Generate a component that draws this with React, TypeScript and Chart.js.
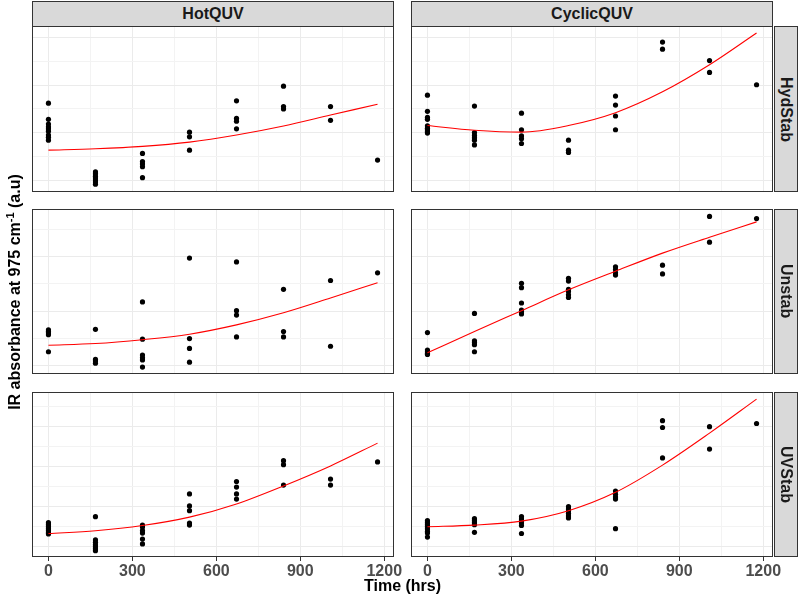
import React, { useEffect, useRef } from 'react';
import { Chart, registerables } from 'chart.js';

Chart.register(...registerables);

// ---------- data ----------
const times = [0, 168, 336, 504, 672, 840, 1008, 1176];
const colLabels = ['HotQUV', 'CyclicQUV'];
const rowLabels = ['HydStab', 'Unstab', 'UVStab'];
const xTickValues = [0, 150, 300, 450, 600, 750, 900, 1050, 1200];
const xMin = -58.8;
const xMax = 1234.8;

// y breaks (gridlines) per facet row; multiples of 0.01 are major
const hydStabBreaks = [0.02, 0.025, 0.03, 0.035, 0.04, 0.045, 0.05];
const unstabBreaks = [0.01, 0.015, 0.02, 0.025, 0.03, 0.035];
const uvStabBreaks = [0.01, 0.015, 0.02, 0.025, 0.03, 0.035, 0.04, 0.045];
const rowYMin = [0.01747, 0.00854, 0.00743];
const rowYMax = [0.05249, 0.03865, 0.04868];

// observations, grouped by time (0,168,...,1176)
const hotHydStab = [
  [0.0362, 0.0328, 0.0318, 0.0312, 0.0308, 0.0303, 0.0295, 0.029, 0.0284],
  [0.0217, 0.0213, 0.0208, 0.0204, 0.02, 0.0196, 0.0191],
  [0.0256, 0.0239, 0.0234, 0.0228, 0.0205],
  [0.0301, 0.0291, 0.0263],
  [0.0367, 0.033, 0.0324, 0.0308],
  [0.0398, 0.0355, 0.035],
  [0.0355, 0.0326],
  [0.0242],
];
const hotHydStabFit = [0.0263, 0.0266, 0.0271, 0.028, 0.0295, 0.0314, 0.0337, 0.036];

const cycHydStab = [
  [0.0379, 0.0345, 0.0332, 0.0328, 0.0314, 0.0309, 0.0306, 0.0302, 0.0299],
  [0.0356, 0.03, 0.0294, 0.0289, 0.0284, 0.0274],
  [0.0341, 0.0306, 0.0293, 0.0287, 0.0277],
  [0.0284, 0.0263, 0.0258],
  [0.0377, 0.0358, 0.0335, 0.0306],
  [0.0491, 0.0476],
  [0.0452, 0.0427],
  [0.0401],
];
const cycHydStabFit = [0.0315, 0.0305, 0.0301, 0.0315, 0.0342, 0.0386, 0.0443, 0.051];

const hotUnstab = [
  [0.0166, 0.0163, 0.016, 0.0157, 0.0126],
  [0.0167, 0.0112, 0.0109, 0.0105],
  [0.0217, 0.0149, 0.012, 0.0115, 0.0111, 0.0098],
  [0.0297, 0.015, 0.0132, 0.0107],
  [0.029, 0.0201, 0.0193, 0.0153],
  [0.024, 0.0163, 0.0153],
  [0.0256, 0.0136],
  [0.027],
];
const hotUnstabFit = [0.0138, 0.0141, 0.0148, 0.0158, 0.0175, 0.0197, 0.0224, 0.0252];

const cycUnstab = [
  [0.0161, 0.0129, 0.0126, 0.0123, 0.0121],
  [0.0196, 0.0146, 0.0143, 0.0139, 0.0126],
  [0.0251, 0.0243, 0.0215, 0.0202, 0.0199, 0.0195],
  [0.026, 0.0255, 0.024, 0.0236, 0.023, 0.0225],
  [0.0281, 0.0276, 0.027, 0.0266],
  [0.0284, 0.0268],
  [0.0373, 0.0326],
  [0.0369],
];
const cycUnstabFit = [0.0124, 0.0163, 0.0201, 0.0239, 0.0273, 0.0306, 0.0335, 0.0363];

const hotUVStab = [
  [0.016, 0.0155, 0.015, 0.0145, 0.014, 0.0135, 0.0132],
  [0.0175, 0.0117, 0.0111, 0.0105, 0.01, 0.0095, 0.009],
  [0.0154, 0.0149, 0.014, 0.0134, 0.0119, 0.0107],
  [0.0232, 0.0202, 0.019, 0.0159, 0.0154],
  [0.0263, 0.0249, 0.0232, 0.0219],
  [0.0315, 0.0305, 0.0254],
  [0.0269, 0.0254],
  [0.0312],
];
const hotUVStabFit = [0.0133, 0.014, 0.0153, 0.0174, 0.0207, 0.0252, 0.0302, 0.0359];

const cycUVStab = [
  [0.0165, 0.016, 0.0155, 0.015, 0.0144, 0.0138, 0.0134, 0.0124],
  [0.017, 0.0165, 0.016, 0.0155, 0.0136],
  [0.0175, 0.0169, 0.0164, 0.0159, 0.0153, 0.0133],
  [0.02, 0.0194, 0.0189, 0.0183, 0.0177, 0.0172],
  [0.0239, 0.0231, 0.0224, 0.0219, 0.0145],
  [0.0415, 0.0398, 0.0322],
  [0.04, 0.0344],
  [0.0408],
];
const cycUVStabFit = [0.015, 0.0154, 0.0164, 0.019, 0.0236, 0.0304, 0.0384, 0.0469];

const panelPoints = [
  [hotHydStab, cycHydStab],
  [hotUnstab, cycUnstab],
  [hotUVStab, cycUVStab],
];
const panelFits = [
  [hotHydStabFit, cycHydStabFit],
  [hotUnstabFit, cycUnstabFit],
  [hotUVStabFit, cycUVStabFit],
];
const rowBreaks = [hydStabBreaks, unstabBreaks, uvStabBreaks];

// ---------- layout ----------
const FONT = '"Liberation Sans", Arial, Helvetica, sans-serif';
const colLeft = [32, 411];
const panelW = 362;
const rowTop = [26, 209, 392];
const rowH = [166, 165, 165];
const xAxisH = 30;
const sidePad = 24; // extra canvas room so edge tick labels are not clipped

const panelBorder = {
  id: 'panelBorder',
  afterDraw(chart: any) {
    const { ctx, chartArea: a } = chart;
    ctx.save();
    ctx.strokeStyle = '#333333';
    ctx.lineWidth = 1;
    ctx.strokeRect(a.left + 0.5, a.top + 0.5, a.right - a.left - 1, a.bottom - a.top - 1);
    ctx.restore();
  },
};

const isMajorY = (v: number) => Math.abs(v / 0.01 - Math.round(v / 0.01)) < 1e-6;
const isMajorX = (v: number) => Math.abs(v % 300) < 1e-6;

function Panel({ row, col }: { row: number; col: number }) {
  const ref = useRef<HTMLCanvasElement>(null);
  const isBottom = row === 2;
  const pad = isBottom ? sidePad : 0;
  const h = rowH[row] + (isBottom ? xAxisH : 0);
  const w = panelW + 2 * pad;

  useEffect(() => {
    const groups = panelPoints[row][col];
    const fit = panelFits[row][col];
    const pts: { x: number; y: number }[] = [];
    groups.forEach((g, i) => g.forEach((v) => pts.push({ x: times[i], y: v })));
    const line = fit.map((v, i) => ({ x: times[i], y: v }));
    const breaks = rowBreaks[row];

    const chart = new Chart(ref.current as HTMLCanvasElement, {
      type: 'scatter',
      data: {
        datasets: [
          {
            type: 'line',
            data: line,
            borderColor: '#FF0000',
            borderWidth: 1.1,
            pointRadius: 0,
            fill: false,
            cubicInterpolationMode: 'monotone',
          } as any,
          {
            data: pts,
            pointRadius: 2.6,
            backgroundColor: '#000000',
            borderWidth: 0,
            pointBorderWidth: 0,
            showLine: false,
          } as any,
        ],
      },
      options: {
        responsive: false,
        animation: false,
        events: [],
        layout: { padding: { left: pad, right: pad, top: 0, bottom: 0 }, autoPadding: false } as any,
        plugins: { legend: { display: false }, tooltip: { enabled: false } },
        scales: {
          x: {
            type: 'linear',
            min: xMin,
            max: xMax,
            display: true,
            afterBuildTicks: (s: any) => {
              s.ticks = xTickValues.map((v) => ({ value: v }));
            },
            afterFit: (s: any) => {
              s.height = isBottom ? xAxisH : 0;
              s.paddingLeft = 0;
              s.paddingRight = 0;
              s.paddingTop = 0;
              s.paddingBottom = 0;
            },
            ticks: {
              display: isBottom,
              autoSkip: false,
              maxRotation: 0,
              minRotation: 0,
              padding: 1,
              color: '#4D4D4D',
              font: { family: FONT, size: 16, weight: 'bold' },
              callback: (v: any) => (isMajorX(Number(v)) ? String(v) : ''),
            },
            grid: {
              color: (c: any) => (isMajorX(c.tick.value) ? '#EBEBEB' : '#F3F3F3'),
              lineWidth: 1,
              drawTicks: isBottom,
              tickLength: 4,
              tickWidth: 1,
              tickColor: (c: any) => (isMajorX(c.tick.value) ? '#333333' : 'rgba(0,0,0,0)'),
            },
            border: { display: false },
          },
          y: {
            type: 'linear',
            min: rowYMin[row],
            max: rowYMax[row],
            display: true,
            afterBuildTicks: (s: any) => {
              s.ticks = breaks.map((v) => ({ value: v }));
            },
            afterFit: (s: any) => {
              s.width = 0;
              s.paddingLeft = 0;
              s.paddingRight = 0;
              s.paddingTop = 0;
              s.paddingBottom = 0;
            },
            ticks: { display: false },
            grid: {
              color: (c: any) => (isMajorY(c.tick.value) ? '#EBEBEB' : '#F3F3F3'),
              lineWidth: 1,
              drawTicks: false,
            },
            border: { display: false },
          },
        },
      } as any,
      plugins: [panelBorder],
    });
    return () => chart.destroy();
  }, []);

  return (
    <canvas
      ref={ref}
      width={w}
      height={h}
      style={{ position: 'absolute', left: colLeft[col] - pad, top: rowTop[row], width: w, height: h }}
    />
  );
}

export default function App() {
  const stripBase: React.CSSProperties = {
    position: 'absolute',
    boxSizing: 'border-box',
    background: '#D9D9D9',
    border: '1px solid #333333',
    display: 'flex',
    alignItems: 'center',
    justifyContent: 'center',
    fontFamily: FONT,
    fontWeight: 'bold',
    fontSize: 16,
    color: '#1A1A1A',
  };
  return (
    <div
      style={{
        position: 'absolute',
        left: 0,
        top: 0,
        width: 800,
        height: 599,
        background: '#FFFFFF',
        overflow: 'hidden',
      }}
    >
      {rowLabels.map((_, r) =>
        colLabels.map((__, c) => <Panel key={`${r}-${c}`} row={r} col={c} />)
      )}
      {colLabels.map((lab, c) => (
        <div key={lab} style={{ ...stripBase, left: colLeft[c], top: 1, width: panelW, height: 26 }}>
          {lab}
        </div>
      ))}
      {rowLabels.map((lab, r) => (
        <div
          key={lab}
          style={{
            ...stripBase,
            left: 774,
            top: rowTop[r],
            width: 24,
            height: rowH[r],
            writingMode: 'vertical-rl',
          }}
        >
          {lab}
        </div>
      ))}
      <div
        style={{
          position: 'absolute',
          left: 202.5,
          top: 578,
          width: 400,
          height: 16,
          lineHeight: '16px',
          textAlign: 'center',
          fontFamily: FONT,
          fontWeight: 'bold',
          fontSize: 16,
          color: '#000000',
          whiteSpace: 'nowrap',
        }}
      >
        Time (hrs)
      </div>
      <div
        style={{
          position: 'absolute',
          left: 15 - 200,
          top: 291.5 - 8,
          width: 400,
          height: 16,
          lineHeight: '16px',
          textAlign: 'center',
          fontFamily: FONT,
          fontWeight: 'bold',
          fontSize: 16,
          color: '#000000',
          whiteSpace: 'nowrap',
          transform: 'rotate(-90deg)',
        }}
      >
        IR absorbance at 975 cm<span style={{ fontSize: 11, position: 'relative', top: -6 }}>-1</span> (a.u)
      </div>
    </div>
  );
}
